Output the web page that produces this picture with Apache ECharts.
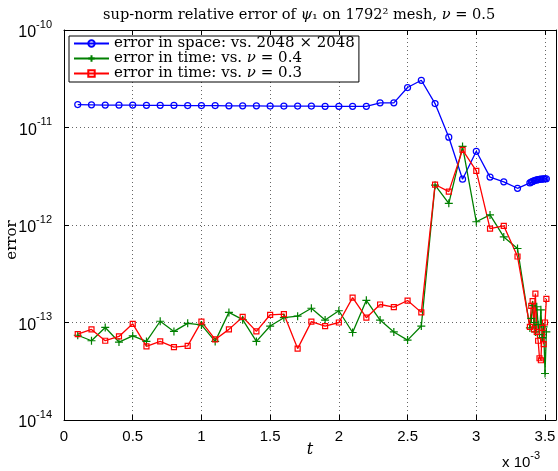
<!DOCTYPE html>
<html>
<head>
<meta charset="utf-8">
<script src="https://cdn.jsdelivr.net/npm/echarts@6/dist/echarts.min.js"></script>
<style>
html, body { margin: 0; padding: 0; background: #fff; }
#chart { width: 558px; height: 471px; }
</style>
</head>
<body>
<div id="chart"></div>
<script>
// time in units of 1e-3
var tValues = [0.1, 0.2, 0.3, 0.4, 0.5, 0.6, 0.7, 0.8, 0.9, 1.0,
    1.1, 1.2, 1.3, 1.4, 1.5, 1.6, 1.7, 1.8, 1.9, 2.0,
    2.1, 2.2, 2.3, 2.4, 2.5, 2.6, 2.7, 2.8, 2.9, 3.0,
    3.1, 3.2, 3.3,
    3.39, 3.40, 3.41, 3.42, 3.43, 3.44, 3.45, 3.46, 3.47, 3.48, 3.49, 3.50, 3.51];

// error in space: vs. 2048 x 2048
var spaceErr = [1.72e-11, 1.71e-11, 1.70e-11, 1.70e-11, 1.70e-11, 1.69e-11, 1.69e-11, 1.69e-11, 1.68e-11, 1.68e-11,
    1.68e-11, 1.67e-11, 1.67e-11, 1.67e-11, 1.66e-11, 1.66e-11, 1.66e-11, 1.66e-11, 1.65e-11, 1.65e-11,
    1.65e-11, 1.65e-11, 1.79e-11, 1.79e-11, 2.57e-11, 3.05e-11, 1.76e-11, 7.95e-12, 2.95e-12, 5.7e-12,
    3.1e-12, 2.77e-12, 2.38e-12,
    2.70e-12, 2.76e-12, 2.80e-12, 2.84e-12, 2.87e-12, 2.90e-12, 2.92e-12, 2.94e-12, 2.95e-12, 2.96e-12, 2.97e-12, 2.98e-12, 2.98e-12];

// error in time: vs. nu = 0.4
var timeErr04 = [7.4e-14, 6.5e-14, 8.9e-14, 6.3e-14, 7.3e-14, 6.4e-14, 1.03e-13, 8.1e-14, 9.8e-14, 9.45e-14,
    6.4e-14, 1.27e-13, 1.07e-13, 6.4e-14, 9.2e-14, 1.12e-13, 1.16e-13, 1.40e-13, 1.06e-13, 1.32e-13,
    7.9e-14, 1.69e-13, 1.06e-13, 8.0e-14, 6.6e-14, 9.2e-14, 2.56e-12, 1.67e-12, 6.4e-12, 1.08e-12,
    1.27e-12, 7.55e-13, 5.74e-13,
    8.8e-14, 1.10e-13, 1.50e-13, 1.00e-13, 8.0e-14, 1.45e-13, 9.5e-14, 7.5e-14, 1.35e-13, 7.0e-14, 9.0e-14, 3.0e-14, 8.0e-14];

// error in time: vs. nu = 0.3
var timeErr03 = [7.6e-14, 8.5e-14, 6.5e-14, 7.2e-14, 9.7e-14, 5.7e-14, 6.4e-14, 5.6e-14, 5.75e-14, 1.02e-13,
    6.7e-14, 8.5e-14, 1.14e-13, 8.1e-14, 1.20e-13, 1.22e-13, 5.4e-14, 1.02e-13, 9.2e-14, 1.00e-13,
    1.80e-13, 1.12e-13, 1.53e-13, 1.44e-13, 1.68e-13, 1.27e-13, 2.6e-12, 2.2e-12, 5.9e-12, 3.59e-12,
    9.2e-13, 9.8e-13, 4.75e-13,
    9.0e-14, 1.48e-13, 1.66e-13, 8.5e-14, 1.98e-13, 8.0e-14, 6.5e-14, 4.3e-14, 4.1e-14, 8.8e-14, 6.0e-14, 1.00e-13, 1.75e-13];

var serif = 'DejaVu Serif';
var sans = 'Liberation Sans';
var dotted = {show: true, lineStyle: {color: '#666', width: 1, type: [1, 3]}};

function pairs(ys) {
    return tValues.map(function (t, i) {
        return [t, ys[i]];
    });
}

function makeSeries(name, ys, color, symbol, size) {
    return {
        name: name,
        type: 'line',
        data: pairs(ys),
        symbol: symbol,
        symbolSize: size,
        showSymbol: true,
        lineStyle: {color: color, width: 1.3},
        itemStyle: {color: 'rgba(0,0,0,0)', borderColor: color, borderWidth: 1.2},
        emphasis: {disabled: true},
        animation: false
    };
}

var chart = echarts.init(document.getElementById('chart'));

var legendRich = {
    n: {fontFamily: serif, fontSize: 15, lineHeight: 15, color: '#000'},
    i: {fontFamily: serif, fontSize: 15, lineHeight: 15, fontStyle: 'italic', color: '#000'}
};

var option = {
    backgroundColor: '#fff',
    animation: false,
    title: {
        text: '{n|sup-norm relative error of }{i|ψ}{n|₁ on 1792² mesh, }{i|ν}{n| = 0.5}',
        left: 98,
        top: 3,
        textStyle: {
            fontWeight: 'normal',
            rich: {
                n: {fontFamily: serif, fontSize: 14.6, fontWeight: 'normal', color: '#000'},
                i: {fontFamily: serif, fontSize: 14.6, fontWeight: 'normal', fontStyle: 'italic', color: '#000'}
            }
        }
    },
    legend: {
        orient: 'vertical',
        left: 69,
        top: 36,
        itemWidth: 35,
        itemHeight: 8,
        itemGap: 0,
        padding: [0, 4, 1, 4],
        borderColor: '#000',
        borderWidth: 1,
        backgroundColor: '#fff',
        data: ['space', 'time04', 'time03'],
        formatter: function (name) {
            if (name === 'space') return '{n|error in space: vs. 2048 × 2048}';
            if (name === 'time04') return '{n|error in time: vs. }{i|ν}{n| = 0.4}';
            return '{n|error in time: vs. }{i|ν}{n| = 0.3}';
        },
        textStyle: {lineHeight: 15, rich: legendRich}
    },
    grid: {left: 64, right: 2, top: 30, bottom: 51, containLabel: false, outerBoundsMode: 'none'},
    xAxis: [{
        type: 'value',
        min: 0,
        max: 3.58,
        interval: 0.5,
        position: 'bottom',
        name: 't',
        nameLocation: 'middle',
        nameGap: 22,
        nameMoveOverlap: false,
        nameTextStyle: {fontFamily: serif, fontSize: 16, fontStyle: 'italic', color: '#000'},
        axisLine: {show: true, onZero: false, lineStyle: {color: '#000', width: 1}},
        axisTick: {show: true, inside: true, length: 5, lineStyle: {color: '#000'}},
        axisLabel: {
            fontFamily: sans, fontSize: 15, color: '#000', margin: 9,
            showMaxLabel: false,
            formatter: function (v) { return String(Math.round(v * 10) / 10); }
        },
        splitLine: dotted
    }, {
        type: 'value',
        min: 0,
        max: 3.58,
        interval: 0.5,
        position: 'top',
        axisLine: {show: true, onZero: false, lineStyle: {color: '#000', width: 1}},
        axisTick: {show: true, inside: true, length: 5, lineStyle: {color: '#000'}},
        axisLabel: {show: false},
        splitLine: {show: false}
    }],
    yAxis: [{
        type: 'log',
        logBase: 10,
        min: 1e-14,
        max: 1e-10,
        position: 'left',
        axisLine: {show: true, onZero: false, lineStyle: {color: '#000', width: 1}},
        axisTick: {show: true, inside: true, length: 5, lineStyle: {color: '#000'}},
        axisLabel: {
            margin: 12,
            formatter: function (v) {
                return '{b|10}{s|' + Math.round(Math.log10(v)) + '}';
            },
            rich: {
                b: {fontFamily: sans, fontSize: 16, lineHeight: 22, verticalAlign: 'bottom', color: '#000'},
                s: {fontFamily: sans, fontSize: 11, lineHeight: 11, verticalAlign: 'top', color: '#000'}
            }
        },
        splitLine: dotted
    }, {
        type: 'log',
        logBase: 10,
        min: 1e-14,
        max: 1e-10,
        position: 'right',
        axisLine: {show: true, onZero: false, lineStyle: {color: '#000', width: 1}},
        axisTick: {show: true, inside: true, length: 5, lineStyle: {color: '#000'}},
        axisLabel: {show: false},
        splitLine: {show: false}
    }],
    graphic: [{
        type: 'text',
        x: 12,
        y: 240,
        rotation: Math.PI / 2,
        style: {
            text: 'error',
            font: '15px "DejaVu Serif"',
            fill: '#000',
            align: 'center',
            verticalAlign: 'middle'
        }
    }, {
        type: 'text',
        left: 502,
        top: 450,
        style: {
            text: '{b|x 10}{s|-3}',
            rich: {
                b: {fontFamily: sans, fontSize: 15, lineHeight: 20, verticalAlign: 'bottom', fill: '#000'},
                s: {fontFamily: sans, fontSize: 11, lineHeight: 11, verticalAlign: 'top', fill: '#000'}
            }
        }
    }],
    series: [
        makeSeries('space', spaceErr, '#0000ff', 'circle', 6),
        makeSeries('time04', timeErr04, '#008000', 'path://M0,5L10,5M5,0L5,10', 8),
        makeSeries('time03', timeErr03, '#ff0000', 'rect', 5)
    ]
};

chart.setOption(option);
</script>
</body>
</html>
